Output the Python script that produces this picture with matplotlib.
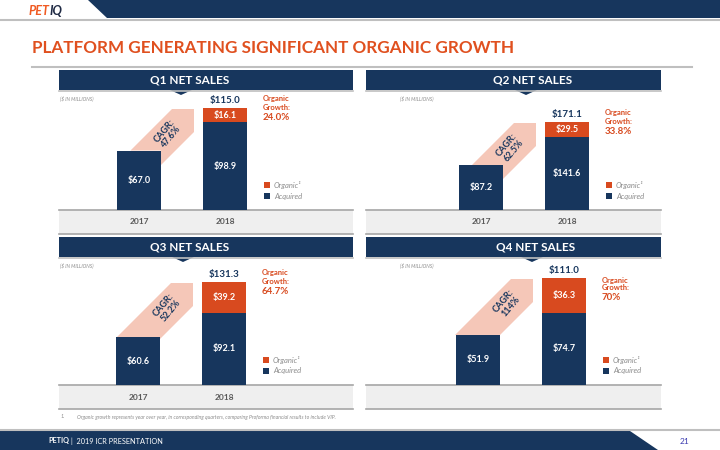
import matplotlib.pyplot as plt
from matplotlib.patches import Polygon, Rectangle
import numpy as np

plt.rcParams['font.family'] = ['Lato', 'DejaVu Sans']

# data ($ in millions)
quarters = ['Q1', 'Q2', 'Q3', 'Q4']
years = ['2017', '2018']
sales_2017 = [67.0, 87.2, 60.6, 51.9]
acquired_2018 = [98.9, 141.6, 92.1, 74.7]
organic_2018 = [16.1, 29.5, 39.2, 36.3]
total_2018 = [115.0, 171.1, 131.3, 111.0]
cagr = ['47.6%', '62.5%', '52.2%', '114%']
organic_growth = ['24.0%', '33.8%', '64.7%', '70%']

navy = '#17365d'
orange = '#d84a1f'
pink = '#f5c7b8'
gray = '#8c8c8c'
linegray = '#bfbfbf'

# panel layout in pixels: left, right, base y, 2018 bar top y, first bar offset
panels = [(59, 353, 210, 108, 80), (366, 661, 210, 122, 115),
          (59, 353, 385, 282, 79), (366, 661, 385, 278, 112)]
header_y = [70, 70, 237, 237]
header_tx = [190, 533, 190, 536]
notch_x = [181, 526, 183, 532]
organic_ty = [99, 113, 273, 280]
show_years = [True, True, True, False]
spacing = 86.0
barw = 44.0

fig = plt.figure(figsize=(7.2, 4.5), dpi=100)
bg = fig.add_axes([0, 0, 1, 1])
bg.set_xlim(0, 720)
bg.set_ylim(450, 0)
bg.axis('off')

# top banner
bg.add_patch(Polygon([(88, 0), (720, 0), (720, 18), (107, 18)], closed=True, fc=navy, ec='none'))
bg.plot([0, 720], [19.5, 19.5], color=linegray, lw=1.5)
bg.text(29, 11, 'PET', color='#f05a22', fontsize=9, fontweight='bold', style='italic', va='center')
bg.text(50, 11, 'IQ', color='#1f2a44', fontsize=9, fontweight='bold', style='italic', va='center')

# title
bg.text(32, 48, 'PLATFORM GENERATING SIGNIFICANT ORGANIC GROWTH', color='#e0501f',
        fontsize=12.3, fontweight='bold', va='center')
bg.plot([32, 692], [67, 67], color=linegray, lw=1.5)

for i in range(4):
    left, right, base, top2, off = panels[i]
    hy = header_y[i]

    # header
    bg.add_patch(Rectangle((left, hy), right - left, 20, fc=navy, ec='none'))
    bg.plot([left, right], [hy + 21, hy + 21], color=linegray, lw=1.2)
    nx = notch_x[i]
    bg.add_patch(Polygon([(nx - 11, hy + 20), (nx + 11, hy + 20), (nx, hy + 25)], closed=True, fc=navy, ec='none'))
    bg.text(header_tx[i], hy + 10, quarters[i] + ' NET SALES', color='white', fontsize=8.5,
            fontweight='bold', ha='center', va='center')
    bg.text(left + 1 if left < 300 else 400, hy + 28, '($ IN MILLIONS)', color=gray, fontsize=3.5,
            style='italic', va='center')

    # bottom band
    bg.add_patch(Rectangle((left, base), right - left, 24, fc='#efefef', ec='none'))
    bg.plot([left, right], [base, base], color='#a6a6a6', lw=1.2)
    bg.plot([left, right], [base + 24, base + 24], color='#a6a6a6', lw=1.2)

    # bars
    ymax = total_2018[i] * 115 / (base - top2)
    ax = fig.add_axes([left / 720, (450 - base) / 450, (right - left) / 720, 115 / 450])
    ax.patch.set_visible(False)
    ax.set_xlim(-off / spacing, (right - left - off) / spacing)
    ax.set_ylim(0, ymax)
    ax.axis('off')

    w = barw / spacing
    ax.bar(0, sales_2017[i], width=w, color=navy, zorder=3)
    ax.bar(1, acquired_2018[i], width=w, color=navy, zorder=3)
    ax.bar(1, organic_2018[i], bottom=acquired_2018[i], width=w, color=orange, zorder=3)

    def to_data(px, py):
        return ((px - left - off) / spacing, (base - py) * ymax / 115)

    # CAGR band
    L = left + off - barw / 2
    R = L + barw
    X2 = L + spacing
    T1 = base - sales_2017[i] * 115 / ymax
    T2 = base - total_2018[i] * 115 / ymax
    pts = [(X2 - 31 - (T1 - T2 - 1), T1), (X2 - 31, T2 + 1), (X2 - 9, T2 + 1), (X2 - 9, T2 + 24),
           (R, T2 + 24 + (X2 - 9 - R)), (R, T1)]
    ax.add_patch(Polygon([to_data(*p) for p in pts], closed=True, fc=pink, ec='none', zorder=1))
    tx, ty = to_data(X2 - 35, T2 + 26)
    ax.text(tx, ty, 'CAGR:\n' + cagr[i], rotation=50, color=navy, fontsize=6.5, fontweight='bold',
            ha='center', va='center', linespacing=1.0, zorder=2, rotation_mode='anchor')

    # value labels
    ax.text(0, sales_2017[i] / 2, '$%.1f' % sales_2017[i], color='white', fontsize=6.5,
            fontweight='bold', ha='center', va='center', zorder=4)
    ax.text(1, acquired_2018[i] / 2, '$%.1f' % acquired_2018[i], color='white', fontsize=6.5,
            fontweight='bold', ha='center', va='center', zorder=4)
    ax.text(1, acquired_2018[i] + organic_2018[i] / 2, '$%.1f' % organic_2018[i], color='white',
            fontsize=6.5, fontweight='bold', ha='center', va='center', zorder=4)
    ax.annotate('$%.1f' % total_2018[i], (1, total_2018[i]), xytext=(0, 2), textcoords='offset points',
                color=navy, fontsize=7, fontweight='bold', ha='center', va='bottom', annotation_clip=False)

    # organic growth note
    gx = X2 + barw + 16
    oy = organic_ty[i]
    bg.text(gx, oy, 'Organic', color=orange, fontsize=5.5, fontweight='bold', va='center')
    bg.text(gx, oy + 8, 'Growth:', color=orange, fontsize=5.5, fontweight='bold', va='center')
    bg.text(gx, oy + 18, organic_growth[i], color=orange, fontsize=7, fontweight='bold', va='center')

    # legend
    bg.add_patch(Rectangle((gx + 1, base - 28), 6, 6, fc=orange, ec='none'))
    bg.add_patch(Rectangle((gx + 1, base - 17), 6, 6, fc=navy, ec='none'))
    bg.text(gx + 11, base - 25, 'Organic¹', color=gray, fontsize=5.5, style='italic', va='center')
    bg.text(gx + 11, base - 14, 'Acquired', color=gray, fontsize=5.5, style='italic', va='center')

    if show_years[i]:
        for j, yr in enumerate(years):
            bg.text(left + off + j * spacing, base + 12, yr, color='#595959', fontsize=6,
                    fontweight='bold', ha='center', va='center')

# footnote
bg.text(60, 417, '1.', color=gray, fontsize=3.7, style='italic', va='center')
bg.text(77, 417, 'Organic growth represents year over year, in corresponding quarters, comparing '
        'Proforma financial results to include VIP.', color=gray, fontsize=3.7, style='italic', va='center')

# footer
bg.plot([0, 720], [430, 430], color=linegray, lw=1.5)
bg.add_patch(Polygon([(0, 431), (630, 431), (658, 450), (0, 450)], closed=True, fc=navy, ec='none'))
t = bg.text(48, 441, 'PETIQ', color='white', fontsize=5.2, fontweight='bold', va='center')
fig.canvas.draw()
bb = t.get_window_extent()
bg.text(bb.x1 + 2, 441, '|  2019 ICR PRESENTATION', color='white', fontsize=5.3, va='center')
bg.text(685, 441, '21', color='#3b3bb0', fontsize=6, va='center', ha='center')

fig.savefig('out.png', dpi=100)
